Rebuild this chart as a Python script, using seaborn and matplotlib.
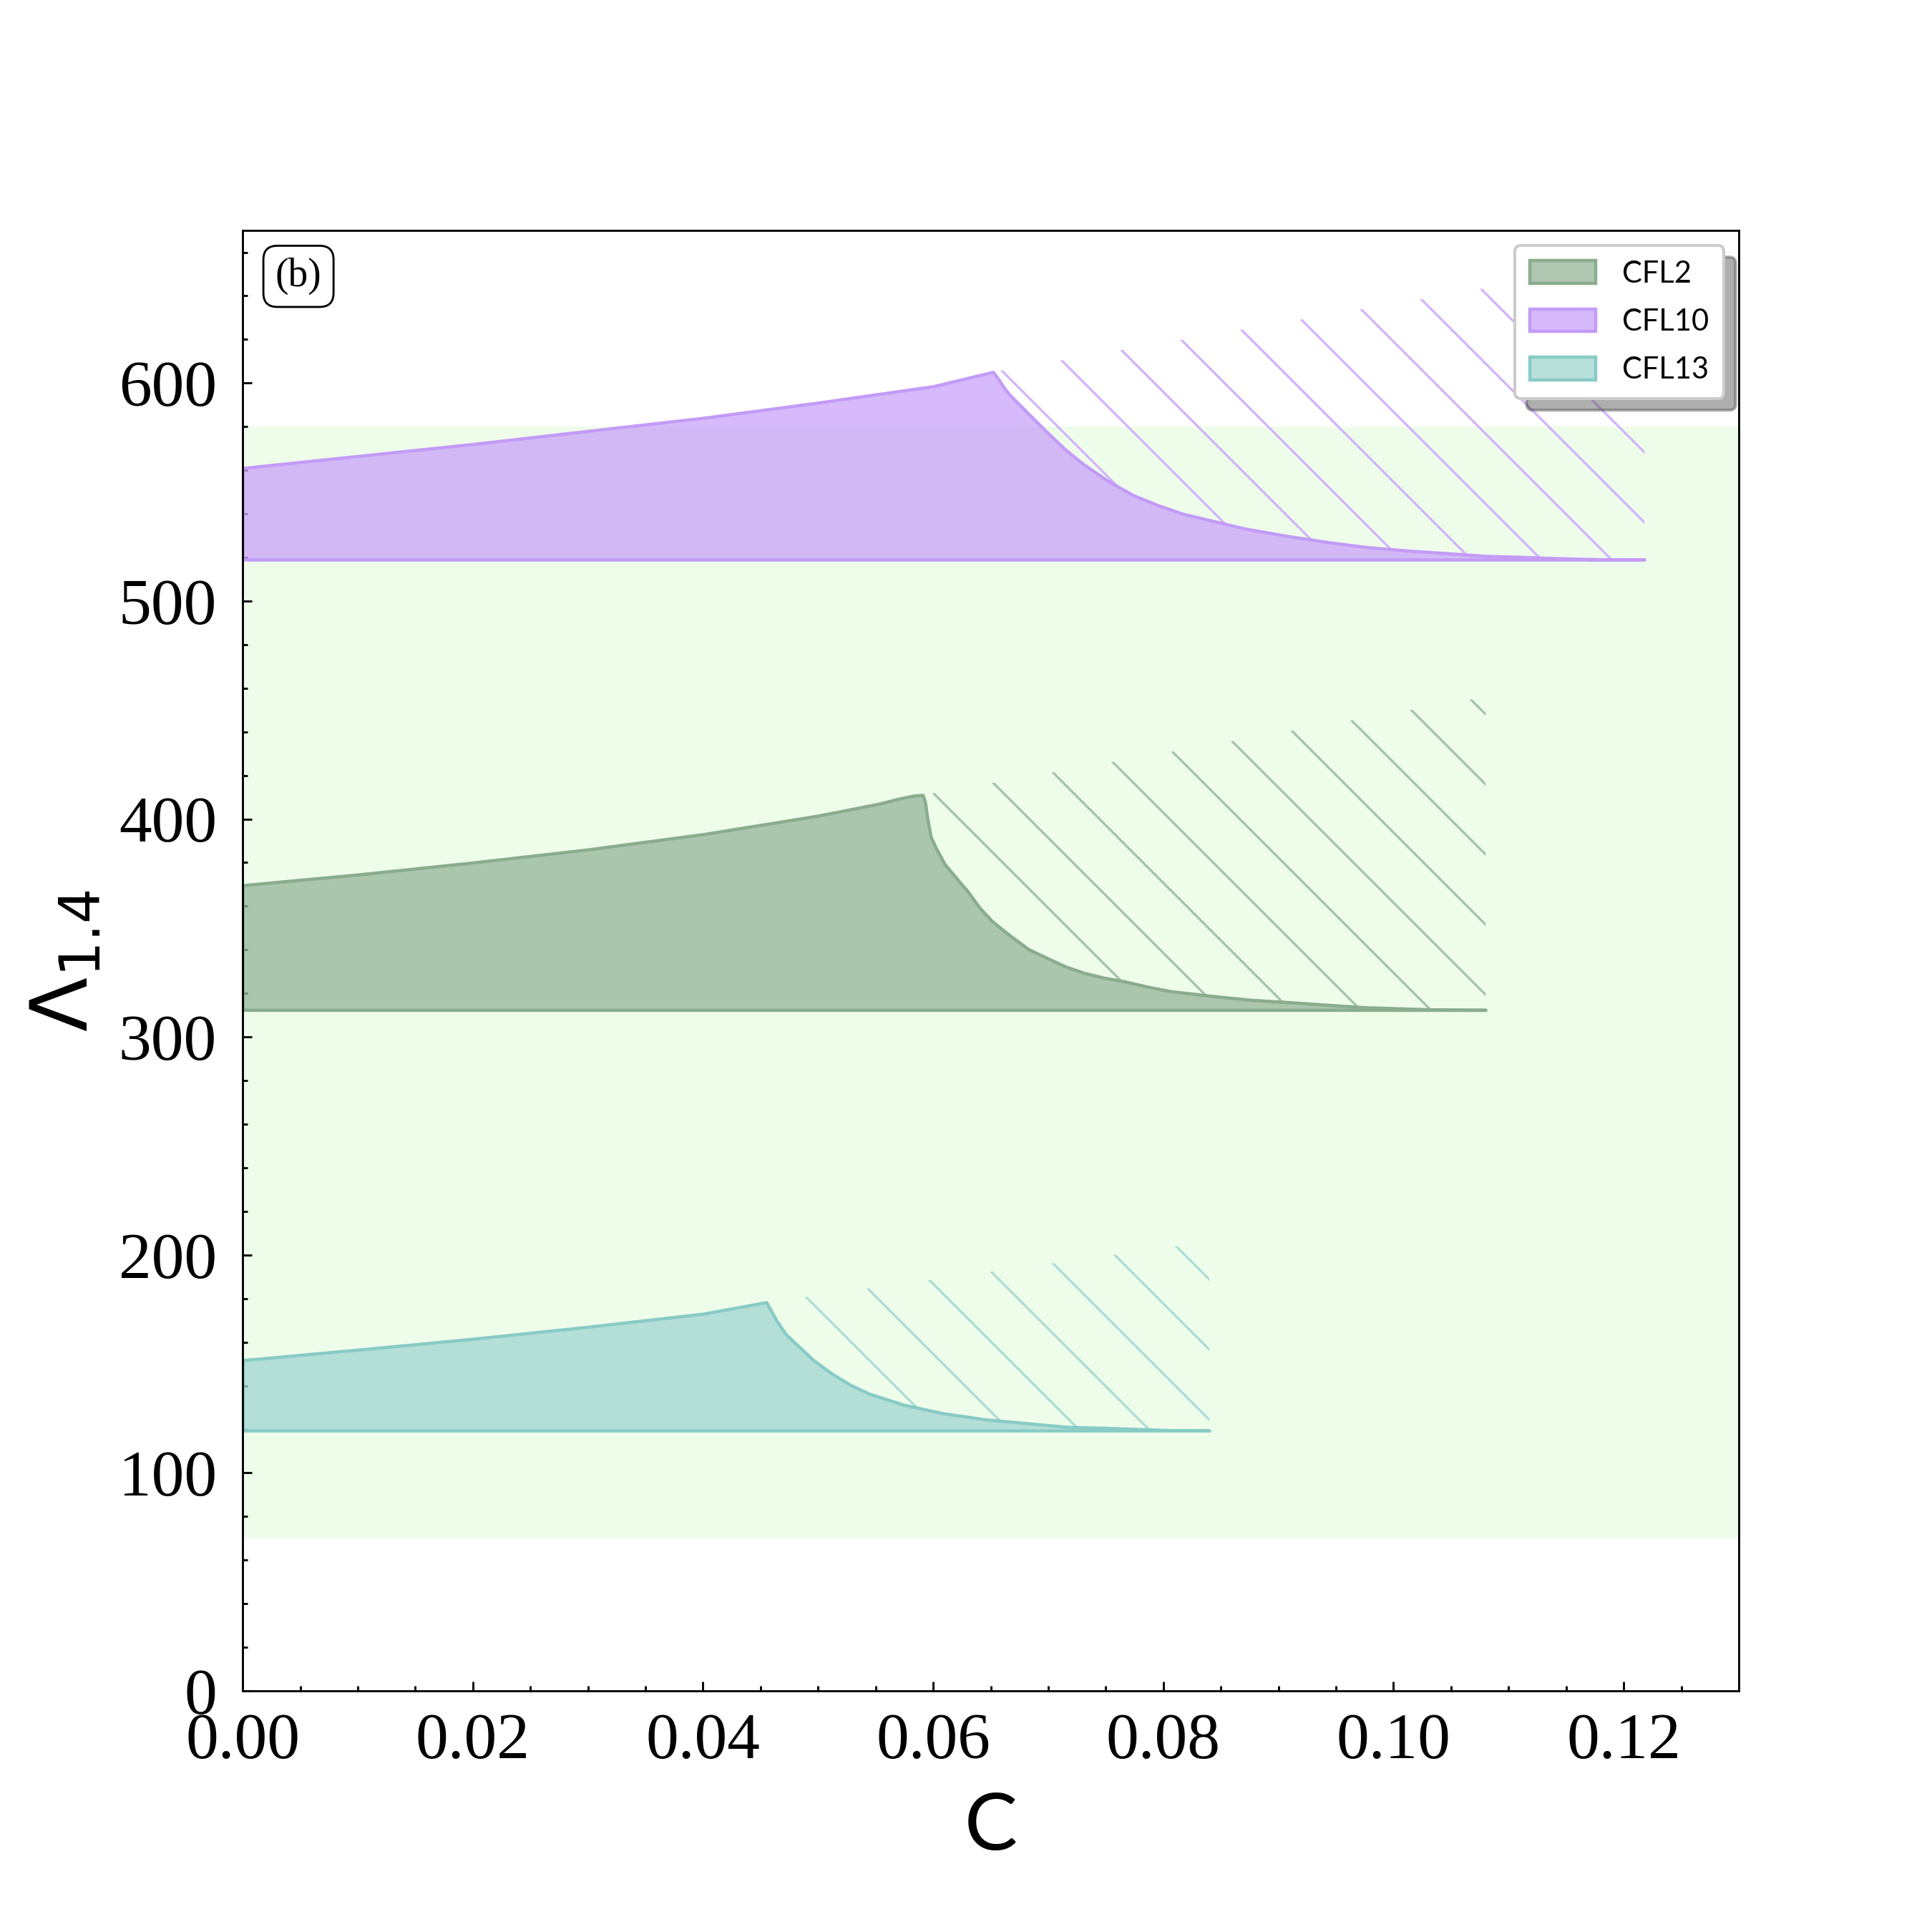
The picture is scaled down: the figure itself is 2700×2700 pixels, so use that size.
import matplotlib
matplotlib.use('Agg')
import matplotlib.pyplot as plt
from matplotlib.ticker import MultipleLocator, FormatStrFormatter
import numpy as np
import seaborn as sns

# compactness C vs tidal deformability Lambda_1.4
labels = ['CFL2', 'CFL10', 'CFL13']

c2_rise = [0.0, 0.01, 0.02, 0.03, 0.04, 0.05, 0.0553, 0.057, 0.0583, 0.0591]
lam2_rise = [369.6, 374.5, 380.0, 386.0, 393.0, 401.5, 407.0, 409.3, 410.7, 411.0]
c2_fall = [0.0591, 0.0593, 0.0595, 0.0598, 0.0603, 0.0610, 0.0619, 0.0630,
           0.0640, 0.0651, 0.0667, 0.0683, 0.0699, 0.0715, 0.0731, 0.0748,
           0.0766, 0.0785, 0.0806, 0.0844, 0.0876, 0.0910, 0.0943, 0.0975,
           0.1010, 0.1040, 0.1080]
lam2_fall = [411.0, 407.6, 400.2, 391.7, 386.1, 379.3, 373.6, 366.8,
             359.5, 353.2, 346.4, 340.2, 336.2, 332.3, 329.4, 327.2,
             325.5, 323.2, 321.0, 318.7, 317.0, 315.9, 314.7, 313.6,
             313.0, 312.5, 312.4]
lam2_min = 312.4
lam2_hatch_top = 456.0

c10_rise = [0.0, 0.01, 0.02, 0.03, 0.04, 0.05, 0.06, 0.0652]
lam10_rise = [561.0, 566.5, 572.0, 578.0, 584.0, 591.0, 598.5, 605.1]
c10_fall = [0.0652, 0.0656, 0.0662, 0.0667, 0.0683, 0.0699, 0.0715, 0.0731,
            0.0753, 0.0774, 0.0795, 0.0817, 0.0844, 0.0871, 0.0908, 0.0943,
            0.0977, 0.1015, 0.1047, 0.1079, 0.1111, 0.1143, 0.1181, 0.1218]
lam10_fall = [605.1, 602.3, 597.5, 594.3, 585.8, 577.4, 569.4, 562.6,
              554.7, 548.5, 544.0, 540.0, 536.6, 533.2, 529.8, 527.0,
              524.7, 523.0, 521.9, 520.7, 520.2, 519.6, 519.1, 519.0]
lam10_min = 519.0
lam10_hatch_top = 656.0

c13_rise = [0.0, 0.01, 0.02, 0.03, 0.04, 0.0455]
lam13_rise = [151.7, 156.5, 161.5, 167.0, 173.0, 178.3]
c13_fall = [0.0455, 0.0458, 0.0464, 0.0472, 0.0480, 0.0496, 0.0512, 0.0528,
            0.0544, 0.0574, 0.0608, 0.0646, 0.0681, 0.0716, 0.0752, 0.0783,
            0.0811, 0.0840]
lam13_fall = [178.3, 175.5, 169.8, 163.6, 159.6, 151.7, 145.5, 140.4,
              136.4, 131.3, 127.4, 124.5, 122.8, 121.1, 120.6, 120.0,
              119.5, 119.4]
lam13_min = 119.4
lam13_hatch_top = 206.0

band_low, band_high = 70, 580

face_colors = ['#94b497', '#c9a3fa', '#9fd6d0']
edge_colors = ['#89ad8d', '#c39bf7', '#88cbc6']
hatch_colors = ['#a5c2a8', '#d2b4fa', '#acdcd6']

DPI = 588
sns.set_style('ticks')
plt.rcParams['font.family'] = ['Liberation Serif', 'DejaVu Serif']
plt.rcParams['mathtext.fontset'] = 'dejavusans'
plt.rcParams['hatch.linewidth'] = 0.4
plt.rcParams['text.color'] = 'black'
plt.rcParams['axes.labelcolor'] = 'black'
plt.rcParams['xtick.color'] = 'black'
plt.rcParams['ytick.color'] = 'black'

fig = plt.figure(figsize=(2700 / DPI, 2700 / DPI), dpi=DPI)
ax = fig.add_axes([0.1256, 0.1248, 0.7744, 0.7559])
ax.set_facecolor('white')

ax.axhspan(band_low, band_high, facecolor='#eefdea', edgecolor='none', zorder=0)

models = [
    (c2_rise, lam2_rise, c2_fall, lam2_fall, lam2_min, lam2_hatch_top),
    (c10_rise, lam10_rise, c10_fall, lam10_fall, lam10_min, lam10_hatch_top),
    (c13_rise, lam13_rise, c13_fall, lam13_fall, lam13_min, lam13_hatch_top),
]

for (cr, lr, cf, lf, lmin, htop), lab, fc, ec, hc in zip(models, labels, face_colors,
                                                         edge_colors, hatch_colors):
    c = np.array(cr + cf[1:])
    lam = np.array(lr + lf[1:])
    ax.fill_between(c, lmin, lam, facecolor=matplotlib.colors.to_rgba(fc, 0.75),
                    edgecolor=ec, linewidth=0.55, label=lab, zorder=2)
    # hatched region above the falling branch
    hx = list(cf) + [cf[-1], cf[0]]
    hy = list(lf) + [htop, lf[0]]
    ax.fill(hx, hy, facecolor='none', edgecolor=hc, linewidth=0, hatch='\\\\',
            zorder=1.5)

ax.set_xlim(0, 0.13)
ax.set_ylim(0, 670)
ax.xaxis.set_major_locator(MultipleLocator(0.02))
ax.xaxis.set_minor_locator(MultipleLocator(0.005))
ax.xaxis.set_major_formatter(FormatStrFormatter('%.2f'))
ax.yaxis.set_major_locator(MultipleLocator(100))
ax.yaxis.set_minor_locator(MultipleLocator(20))
ax.tick_params(which='both', direction='in', top=False, right=False, width=0.35,
               labelsize=11.2, color='black', labelcolor='black')
ax.tick_params(which='major', length=1.6)
ax.tick_params(which='minor', length=0.8)
ax.tick_params(axis='x', pad=3.7)
ax.tick_params(axis='y', pad=4.4)
for sp in ax.spines.values():
    sp.set_visible(True)
    sp.set_linewidth(0.35)
    sp.set_color('black')

ax.set_xlabel('C', fontsize=13.6, family=['Lato', 'DejaVu Sans'], labelpad=3.5)
ax.set_ylabel(r'$\Lambda_{1.4}$', fontsize=13.6, labelpad=2.5)

ax.text(0.0373, 0.9686, '(b)', transform=ax.transAxes, ha='center', va='center',
        fontsize=6.8, zorder=5,
        bbox=dict(boxstyle='round,pad=0.3,rounding_size=0.35', facecolor='white',
                  edgecolor='black', linewidth=0.35))

leg = ax.legend(loc='upper right', shadow={'alpha': 0.45}, fancybox=True,
                framealpha=1, edgecolor='#cccccc', handlelength=2.2,
                handleheight=0.8, handletextpad=0.9, labelspacing=0.7,
                borderpad=0.5, prop={'family': ['Lato', 'DejaVu Sans'], 'size': 5.1})
leg.get_frame().set_linewidth(0.5)
leg.set_zorder(10)

fig.savefig('out.png', dpi=DPI)
